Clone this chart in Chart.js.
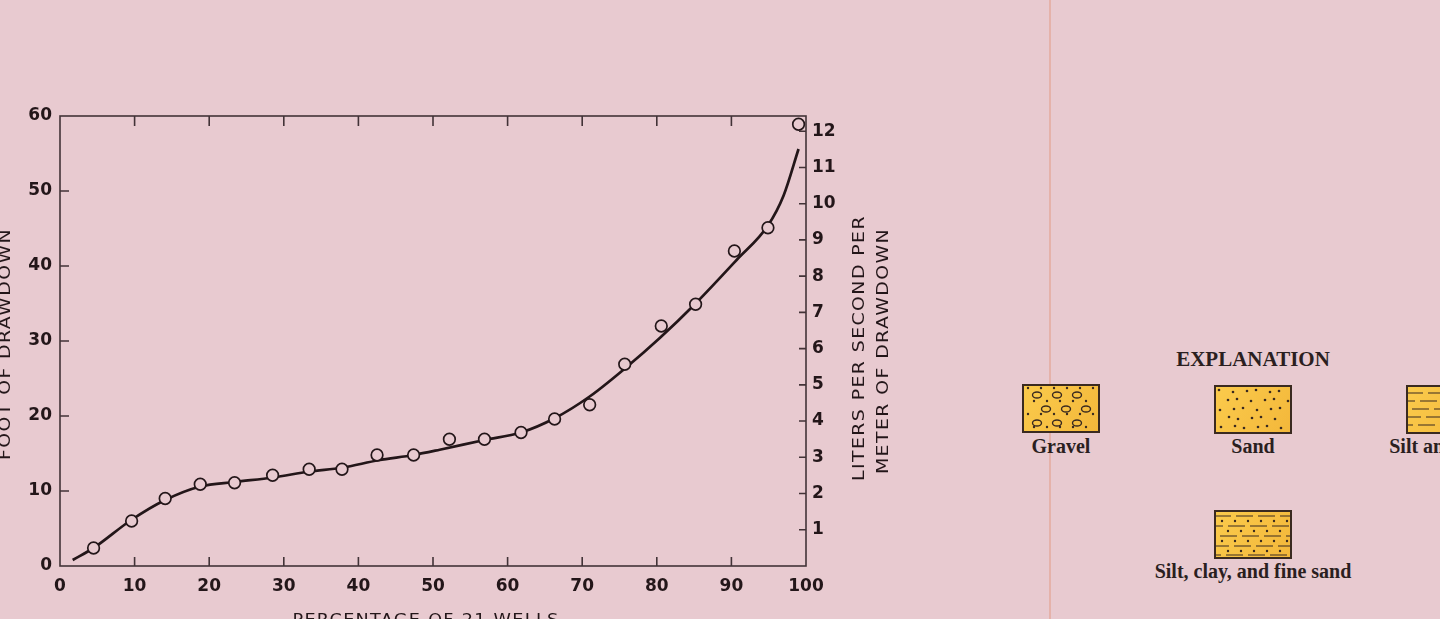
<!DOCTYPE html>
<html>
<head>
<meta charset="utf-8">
<title>Specific capacity of 21 wells</title>
<script src="https://cdn.jsdelivr.net/npm/chart.js@4.4.1/dist/chart.umd.min.js"></script>
<style>
  html, body { margin: 0; padding: 0; width: 1440px; height: 619px; overflow: hidden; background: #e8cad0; }
  #chartBox { position: absolute; left: 0; top: 0; width: 940px; height: 619px; }
  .seam { position: absolute; left: 1049px; top: 0; width: 2px; height: 619px; background: rgba(226, 158, 138, 0.55); }
  .explain { position: absolute; font-family: 'Liberation Serif', serif; font-weight: bold; color: #2b1f1f; text-align: center; white-space: nowrap; }
  .swatch { position: absolute; width: 78px; height: 49px; }
</style>
</head>
<body>
<div class="seam"></div>
<div id="chartBox"><canvas id="capacity"></canvas></div>

<div class="explain" style="left:1153px; top:349px; width:200px; font-size:21px; line-height:21px;">EXPLANATION</div>
<canvas class="swatch" id="swGravel" width="78" height="49" style="left:1022px; top:384px;"></canvas>
<div class="explain" style="left:961px; top:436px; width:200px; font-size:20px; line-height:20px;">Gravel</div>
<canvas class="swatch" id="swSand" width="78" height="49" style="left:1214px; top:385px;"></canvas>
<div class="explain" style="left:1153px; top:436px; width:200px; font-size:20px; line-height:20px;">Sand</div>
<canvas class="swatch" id="swSilt" width="78" height="49" style="left:1406px; top:385px;"></canvas>
<div class="explain" style="left:1342px; top:436px; width:200px; font-size:20px; line-height:20px;">Silt and clay</div>
<canvas class="swatch" id="swMixed" width="78" height="49" style="left:1214px; top:510px;"></canvas>
<div class="explain" style="left:1103px; top:561px; width:300px; font-size:20px; line-height:20px;">Silt, clay, and fine sand</div>

<script>
// smoothed curve (percentage of wells, gallons per minute per foot)
const curvePercent = [1.7, 4.5, 9.5, 14.1, 18.8, 23.4, 28.6, 33.4, 37.8, 42.7, 47.4, 50.9, 56.9, 61.8, 66.3, 71.0, 75.8, 80.4, 85.2, 90.7, 94.9, 97.0, 99.0];
const curveCapacity = [0.8, 2.4, 6.1, 8.8, 10.6, 11.2, 11.8, 12.6, 13.1, 14.1, 14.8, 15.5, 16.8, 17.8, 19.7, 22.6, 26.4, 30.4, 35.0, 40.8, 45.4, 49.4, 55.6];

// individual wells (open circles)
const wellPercent = [4.5, 9.6, 14.1, 18.8, 23.4, 28.5, 33.4, 37.8, 42.5, 47.4, 52.2, 56.9, 61.8, 66.3, 71.0, 75.7, 80.6, 85.2, 90.4, 94.9, 99.0];
const wellCapacity = [2.4, 6.0, 9.0, 10.9, 11.1, 12.1, 12.9, 12.9, 14.8, 14.8, 16.9, 16.9, 17.8, 19.6, 21.5, 26.9, 32.0, 34.9, 42.0, 45.1, 58.9];

const percentTicks = [0, 10, 20, 30, 40, 50, 60, 70, 80, 90, 100];
const footTicks = [0, 10, 20, 30, 40, 50, 60];
const meterTicks = [1, 2, 3, 4, 5, 6, 7, 8, 9, 10, 11, 12];

// 1 gal/min/ft = 0.207 L/s/m
const litersPerGallonFoot = 0.207;

const ink = '#231619';
const axisInk = '#423337';
const paper = '#e8cad0';
const tickFont = { family: 'DejaVu Sans', weight: 'bold', size: 17 };

var capacityChart = null;

window.addEventListener('DOMContentLoaded', (event) => {
    initChart();
    paintSwatch('swGravel', 'gravel');
    paintSwatch('swSand', 'sand');
    paintSwatch('swSilt', 'silt');
    paintSwatch('swMixed', 'mixed');
});

const framePlugin = {
    id: 'frame',
    beforeDatasetsDraw(chart) {
        const { ctx, chartArea: a, scales } = chart;
        ctx.save();
        ctx.strokeStyle = axisInk;
        ctx.lineWidth = 1.6;
        ctx.strokeRect(a.left, a.top, a.width, a.height);
        ctx.beginPath();
        scales.x.ticks.forEach(t => {
            if (t.value <= 0 || t.value >= 100) return;
            const px = scales.x.getPixelForValue(t.value);
            ctx.moveTo(px, a.bottom); ctx.lineTo(px, a.bottom - 9);
            ctx.moveTo(px, a.top); ctx.lineTo(px, a.top + 10);
        });
        scales.y.ticks.forEach(t => {
            if (t.value <= 0 || t.value >= 60) return;
            const py = scales.y.getPixelForValue(t.value);
            ctx.moveTo(a.left, py); ctx.lineTo(a.left + 9, py);
        });
        scales.y2.ticks.forEach(t => {
            const py = scales.y2.getPixelForValue(t.value);
            ctx.moveTo(a.right, py); ctx.lineTo(a.right - 7, py);
        });
        ctx.stroke();
        ctx.restore();
    }
};

// wide lettering: glyphs stretched along the reading direction
function drawWide(ctx, text, x, y, angle, stretch) {
    ctx.save();
    ctx.translate(x, y);
    ctx.rotate(angle);
    ctx.scale(stretch, 1);
    ctx.fillText(text, 0, 0);
    ctx.restore();
}

const titlePlugin = {
    id: 'axisTitles',
    afterDraw(chart) {
        const { ctx, chartArea: a } = chart;
        const midY = (a.top + a.bottom) / 2;
        const up = -Math.PI / 2;
        ctx.save();
        ctx.fillStyle = ink;
        ctx.font = '16px "DejaVu Sans"';
        ctx.letterSpacing = '1.2px';
        ctx.textAlign = 'center';
        ctx.textBaseline = 'middle';
        drawWide(ctx, 'FOOT OF DRAWDOWN', a.left - 54, midY + 3, up, 1.18);
        drawWide(ctx, 'LITERS PER SECOND PER', a.right + 54, midY + 7, up, 1.18);
        drawWide(ctx, 'METER OF DRAWDOWN', a.right + 78, midY + 10, up, 1.18);
        ctx.textBaseline = 'alphabetic';
        drawWide(ctx, 'PERCENTAGE OF 21 WELLS', (a.left + a.right) / 2 - 7, a.bottom + 59, 0, 1.1);
        ctx.restore();
    }
};

function initChart() {
    capacityChart = new Chart(document.getElementById('capacity'), {
        type: 'scatter',
        data: {
            datasets: [
                {
                    label: 'Wells',
                    data: wellPercent.map((p, i) => ({ x: p, y: wellCapacity[i] })),
                    pointRadius: 5.8,
                    pointBorderWidth: 1.7,
                    pointBorderColor: ink,
                    pointBackgroundColor: paper,
                    clip: false,
                    order: 0
                },
                {
                    label: 'Curve',
                    data: curvePercent.map((p, i) => ({ x: p, y: curveCapacity[i] })),
                    showLine: true,
                    borderColor: ink,
                    borderWidth: 2.7,
                    pointRadius: 0,
                    cubicInterpolationMode: 'monotone',
                    clip: false,
                    order: 1
                }
            ]
        },
        options: {
            responsive: true,
            maintainAspectRatio: false,
            animation: false,
            events: [],
            layout: { padding: { top: 116, bottom: 13, left: 0, right: 0 } },
            plugins: { legend: { display: false }, tooltip: { enabled: false } },
            scales: {
                x: {
                    type: 'linear', position: 'bottom', min: 0, max: 100,
                    grid: { display: false, drawTicks: false }, border: { display: false },
                    afterBuildTicks: s => { s.ticks = percentTicks.map(v => ({ value: v })); },
                    ticks: { font: tickFont, color: ink, padding: 10, maxRotation: 0 },
                    afterFit: s => { s.height = 40; }
                },
                y: {
                    position: 'left', min: 0, max: 60,
                    grid: { display: false, drawTicks: false }, border: { display: false },
                    afterBuildTicks: s => { s.ticks = footTicks.map(v => ({ value: v })); },
                    ticks: { font: tickFont, color: ink, padding: 8 },
                    afterFit: s => { s.width = 60; }
                },
                y2: {
                    position: 'right', min: 0, max: 60 * litersPerGallonFoot,
                    grid: { display: false, drawTicks: false }, border: { display: false },
                    afterBuildTicks: s => { s.ticks = meterTicks.map(v => ({ value: v })); },
                    ticks: { font: tickFont, color: ink, padding: 6 },
                    afterFit: s => { s.width = 134; }
                }
            }
        },
        plugins: [framePlugin, titlePlugin]
    });
}

function paintSwatch(id, kind) {
    const canvas = document.getElementById(id);
    const c = canvas.getContext('2d');
    const w = canvas.width, h = canvas.height;
    const g = c.createLinearGradient(0, 0, w, h);
    g.addColorStop(0, '#fbcb4c');
    g.addColorStop(1, '#f3b73a');
    c.fillStyle = g;
    c.fillRect(0, 0, w, h);
    c.fillStyle = '#3a2a20';
    c.strokeStyle = '#3a2a20';

    if (kind === 'sand') {
        for (let r = 0; r < 5; r++) {
            for (let k = 0; k < 6; k++) {
                const x = 7 + k * 12 + (r % 2) * 6 + ((k * 7 + r * 3) % 5) - 2;
                const y = 6 + r * 9 + ((k * 5 + r) % 3) - 1;
                if (x > w - 4) continue;
                c.beginPath(); c.arc(x, y, 1.3, 0, Math.PI * 2); c.fill();
            }
        }
    }
    if (kind === 'gravel') {
        c.lineWidth = 1.4;
        for (let r = 0; r < 3; r++) {
            for (let k = 0; k < 4; k++) {
                const x = 15 + k * 20 + (r % 2) * 9;
                const y = 11 + r * 14;
                if (x > 70) continue;
                c.beginPath(); c.ellipse(x, y, 4.5, 3, 0, 0, Math.PI * 2); c.stroke();
            }
        }
        for (let r = 0; r < 4; r++) {
            for (let k = 0; k < 6; k++) {
                const x = 6 + k * 13 + (r % 2) * 6;
                const y = 4 + r * 13;
                if (x > w - 4) continue;
                c.beginPath(); c.arc(x, y, 1.2, 0, Math.PI * 2); c.fill();
            }
        }
    }
    if (kind === 'silt' || kind === 'mixed') {
        c.lineWidth = 1.2;
        c.setLineDash([17, 5]);
        const rows = kind === 'silt' ? [8, 16, 24, 32, 40] : [6, 16, 26, 36, 45];
        rows.forEach((y, r) => {
            c.lineDashOffset = r * 8;
            c.beginPath(); c.moveTo(0, y); c.lineTo(w, y); c.stroke();
        });
        c.setLineDash([]);
        if (kind === 'mixed') {
            [11, 21, 31, 41].forEach((y, r) => {
                for (let k = 0; k < 6; k++) {
                    const x = 8 + k * 13 + (r % 2) * 6;
                    c.beginPath(); c.arc(x, y, 1.2, 0, Math.PI * 2); c.fill();
                }
            });
        }
    }
    c.lineWidth = 2;
    c.strokeRect(1, 1, w - 2, h - 2);
}
</script>
</body>
</html>
